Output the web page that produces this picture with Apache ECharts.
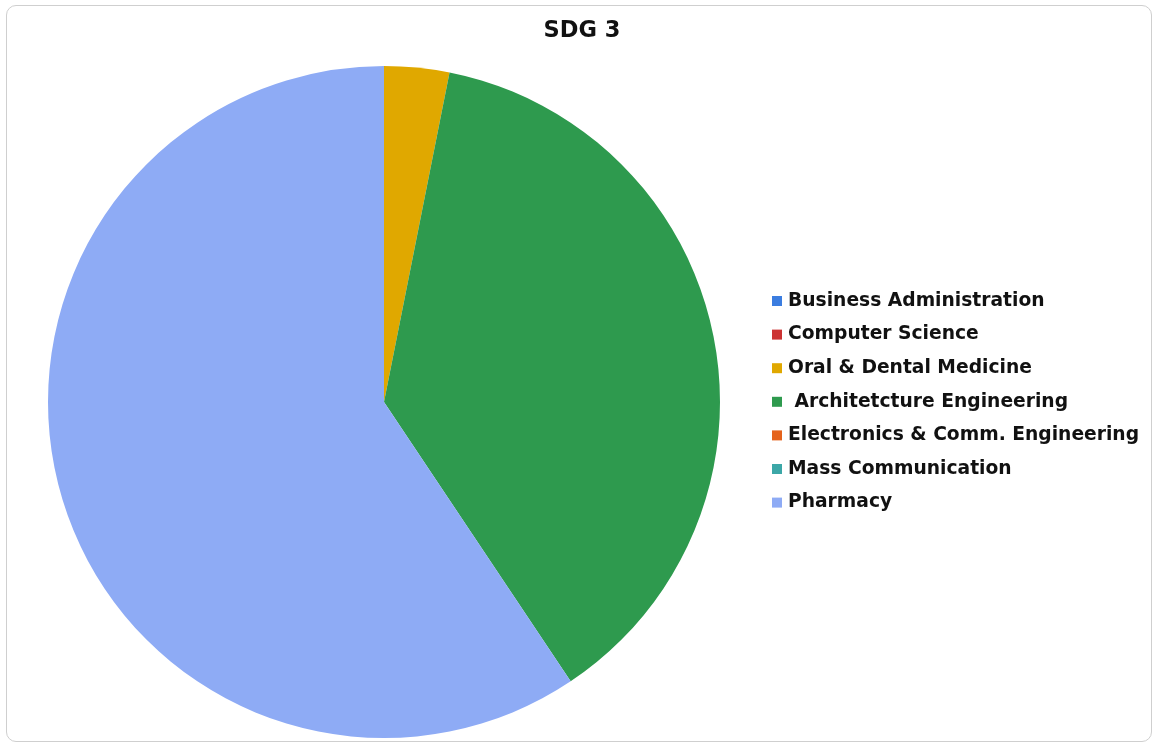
<!DOCTYPE html>
<html>
<head>
<meta charset="utf-8">
<script src="https://cdn.jsdelivr.net/npm/echarts@6/dist/echarts.min.js"></script>
<style>
html,body{margin:0;padding:0;background:#fff;}
#frame{position:absolute;left:6px;top:5px;width:1146px;height:737px;border:1.5px solid #cfcfcf;border-radius:10px;box-sizing:border-box;}
#chart{position:absolute;left:0;top:0;width:1158px;height:748px;}
</style>
</head>
<body>
<div id="frame"></div>
<div id="chart"></div>
<script>
var categories = ["Business Administration","Computer Science","Oral & Dental Medicine"," Architetcture Engineering","Electronics & Comm. Engineering","Mass Communication","Pharmacy"];
var values = [0, 0, 1, 12, 0, 0, 19];
var colors = ["#3b7de0","#cc3333","#e0a800","#2e9a4e","#e5631c","#3ca7a7","#8eabf5"];

var chart = echarts.init(document.getElementById('chart'));
chart.setOption({
  animation:false,
  backgroundColor:'transparent',
  title:{text:'SDG 3',left:577,top:15,textAlign:'center',textStyle:{fontFamily:'DejaVu Sans',fontSize:22.5,fontWeight:'bold',color:'#111'}},
  color:colors,
  legend:{
    orient:'vertical',left:767,top:286,
    itemWidth:10,itemHeight:10,itemGap:13.6,
    icon:'rect',
    textStyle:{fontFamily:'DejaVu Sans',fontSize:18.7,fontWeight:'bold',color:'#111',lineHeight:20,padding:[0,0,0,1]},
    data:categories
  },
  series:[{
    type:'pie',
    center:[384,402],
    radius:336,
    startAngle:90,
    clockwise:true,
    label:{show:false},
    labelLine:{show:false},
    emphasis:{disabled:true},
    itemStyle:{borderWidth:0},
    data:categories.map(function(c,i){return {name:c,value:values[i]};})
  }]
});
</script>
</body>
</html>
